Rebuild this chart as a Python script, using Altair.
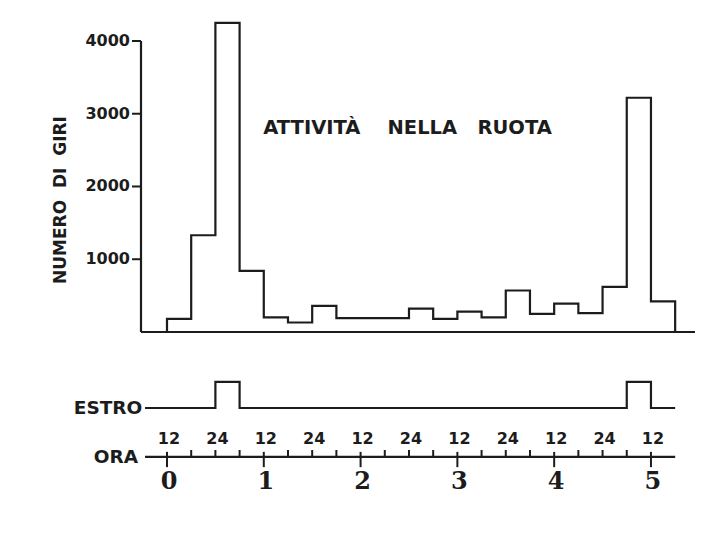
import altair as alt
import pandas as pd

# ---------------- data ----------------
# wheel activity in 6-hour bins (x in days from the "0" mark = 12 h)
BIN_START_DAYS = [0.00, 0.25, 0.50, 0.75, 1.00, 1.25, 1.50, 1.75, 2.00, 2.25,
                  2.50, 2.75, 3.00, 3.25, 3.50, 3.75, 4.00, 4.25, 4.50, 4.75, 5.00]
BIN_END_DAY = 5.25
GIRI = [180, 1330, 4250, 840, 200, 130, 360, 190, 190, 190,
        320, 180, 280, 200, 570, 250, 390, 260, 620, 3220, 420]

Y_TICKS = [1000, 2000, 3000, 4000]
Y_TICK_LABELS = ["1000", "2000", "3000", "4000"]

# oestrus trace (0 = off, 1 = on), step-after positions in days
ESTRO_X = [-0.227, 0.50, 0.75, 4.75, 5.00, 5.25]
ESTRO_STATE = [0, 1, 0, 1, 0, 0]

# hour scale
ORA_MAJOR = [0, 1, 2, 3, 4, 5]
ORA_MINOR = [0.25, 0.5, 0.75, 1.25, 1.5, 1.75, 2.25, 2.5, 2.75,
             3.25, 3.5, 3.75, 4.25, 4.5, 4.75]
ORA_HOUR_POS = [0, 0.5, 1, 1.5, 2, 2.5, 3, 3.5, 4, 4.5, 5]
ORA_HOUR_LABELS = ["12", "24", "12", "24", "12", "24", "12", "24", "12", "24", "12"]
DAY_LABELS = ["0", "1", "2", "3", "4", "5"]

NB = "\u00a0"
TITLE = "ATTIVITÀ" + NB * 4 + "NELLA" + NB * 3 + "RUOTA"
Y_TITLE = "NUMERO" + NB * 2 + "DI" + NB * 2 + "GIRI"

# ---------------- layout constants ----------------
X_MIN, X_MAX = -0.2686, 5.455
Y_MIN, Y_MAX = -2722, 4371
TICK_LEN_DAYS = 0.093
LINE_START = -0.227
ESTRO_BASE, ESTRO_HEIGHT = -1045, 358
ORA_Y = -1718
INK = "#1c1c1c"
SANS = "DejaVu Sans"
SERIF = "DejaVu Serif"

xs = alt.Scale(domain=[X_MIN, X_MAX], nice=False, zero=False)
ys = alt.Scale(domain=[Y_MIN, Y_MAX], nice=False, zero=False)


def X(field="x"):
    return alt.X(f"{field}:Q", scale=xs, axis=None)


def Y(field="y"):
    return alt.Y(f"{field}:Q", scale=ys, axis=None)


# histogram as a step outline
hist_x = [0.0] + BIN_START_DAYS + [BIN_END_DAY]
hist_y = [0] + GIRI + [0]
hist_df = pd.DataFrame({"x": hist_x, "y": hist_y, "i": list(range(len(hist_x)))})

hist = alt.Chart(hist_df).mark_line(
    interpolate="step-after", color=INK, strokeWidth=2.2
).encode(x=X(), y=Y(), order="i:Q")

# y axis line (0 to 4000), ticks, labels, and baseline
yline = alt.Chart(pd.DataFrame({"x": [X_MIN], "y": [0], "y2": [Y_TICKS[-1]]})).mark_rule(
    color=INK, strokeWidth=2.2).encode(x=X(), y=Y(), y2="y2:Q")

ytick_df = pd.DataFrame({
    "y": Y_TICKS,
    "x": [X_MIN - TICK_LEN_DAYS] * len(Y_TICKS),
    "x2": [X_MIN] * len(Y_TICKS),
})
yticks = alt.Chart(ytick_df).mark_rule(color=INK, strokeWidth=2).encode(
    x=X(), x2="x2:Q", y=Y())

ylab_df = pd.DataFrame({
    "y": Y_TICKS,
    "t": Y_TICK_LABELS,
    "x": [X_MIN - TICK_LEN_DAYS] * len(Y_TICKS),
})
ylabels = alt.Chart(ylab_df).mark_text(
    font=SANS, fontWeight="bold", fontSize=16, color=INK, align="right", baseline="middle", dx=-2
).encode(x=X(), y=Y(), text="t:N")

base = alt.Chart(pd.DataFrame({"x": [X_MIN], "x2": [X_MAX], "y": [0]})).mark_rule(
    color=INK, strokeWidth=2.2).encode(x=X(), x2="x2:Q", y=Y())

# oestrus trace
estro_df = pd.DataFrame({
    "x": ESTRO_X,
    "y": [ESTRO_BASE + ESTRO_HEIGHT * s for s in ESTRO_STATE],
    "i": list(range(len(ESTRO_X))),
})
estro = alt.Chart(estro_df).mark_line(
    interpolate="step-after", color=INK, strokeWidth=2.2
).encode(x=X(), y=Y(), order="i:Q")

# hour axis
ora_line = alt.Chart(pd.DataFrame({"x": [LINE_START], "x2": [BIN_END_DAY], "y": [ORA_Y]})).mark_rule(
    color=INK, strokeWidth=2.2).encode(x=X(), x2="x2:Q", y=Y())

major_df = pd.DataFrame({
    "x": ORA_MAJOR,
    "y": [ORA_Y + 70] * len(ORA_MAJOR),
    "y2": [ORA_Y - 140] * len(ORA_MAJOR),
})
major = alt.Chart(major_df).mark_rule(color=INK, strokeWidth=2).encode(
    x=X(), y=Y(), y2="y2:Q")

minor_df = pd.DataFrame({
    "x": ORA_MINOR,
    "y": [ORA_Y + 96] * len(ORA_MINOR),
    "y2": [ORA_Y] * len(ORA_MINOR),
})
minor = alt.Chart(minor_df).mark_rule(color=INK, strokeWidth=2).encode(
    x=X(), y=Y(), y2="y2:Q")

hour_text = alt.Chart(pd.DataFrame({
    "x": ORA_HOUR_POS, "t": ORA_HOUR_LABELS, "y": [-1471] * len(ORA_HOUR_POS)
})).mark_text(
    font=SANS, fontWeight="bold", fontSize=16, color=INK, baseline="middle", dx=2
).encode(x=X(), y=Y(), text="t:N")

day_text = alt.Chart(pd.DataFrame({
    "x": ORA_MAJOR, "t": DAY_LABELS, "y": [-2062] * len(ORA_MAJOR)
})).mark_text(
    font=SERIF, fontWeight="bold", fontSize=24, color=INK, baseline="middle", dx=2
).encode(x=X(), y=Y(), text="t:N")

# text labels
labels_df = pd.DataFrame({
    "x": [-0.255, -0.30],
    "y": [ESTRO_BASE, ORA_Y],
    "t": ["ESTRO", "ORA"],
})
side_labels = alt.Chart(labels_df).mark_text(
    font=SANS, fontWeight="bold", fontSize=18.5, color=INK, align="right", baseline="middle"
).encode(x=X(), y=Y(), text="t:N")

title = alt.Chart(pd.DataFrame({"x": [2.485], "y": [2804], "t": [TITLE]})).mark_text(
    font=SANS, fontWeight="bold", fontSize=19.5, color=INK, baseline="middle"
).encode(x=X(), y=Y(), text="t:N")

ytitle = alt.Chart(pd.DataFrame({"x": [X_MIN - 0.826], "y": [1814], "t": [Y_TITLE]})).mark_text(
    font=SANS, fontWeight="bold", fontSize=17, color=INK, angle=270, baseline="middle"
).encode(x=X(), y=Y(), text="t:N")

chart = alt.layer(
    hist, yline, yticks, ylabels, base, estro, ora_line, major, minor,
    hour_text, day_text, side_labels, title, ytitle
).properties(
    width=554, height=516,
    autosize="none",
    padding={"left": 133, "top": 6, "right": 10, "bottom": 6},
    background="white",
).configure_view(stroke=None)

chart.save("out.html", embed_options={"renderer": "svg", "actions": False})
